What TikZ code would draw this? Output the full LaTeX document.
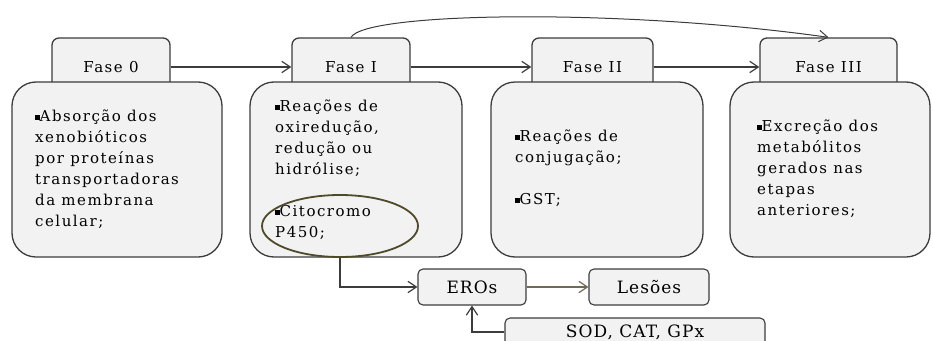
\documentclass[tikz,border=0pt]{standalone}
\usepackage{fontspec}
\setmainfont{DejaVu Serif}
\usepackage{xcolor}
\usetikzlibrary{arrows.meta,positioning,shapes.geometric}

\definecolor{boxfill}{HTML}{F2F2F2}
\definecolor{boxline}{HTML}{3C3C3C}
\definecolor{olivering}{HTML}{4F4B2A}
\definecolor{olivearrow}{HTML}{6F6B55}
\newcommand{\sq}{\raisebox{0.25ex}{\rule{4.5pt}{4.5pt}}}

\begin{document}
\begin{tikzpicture}[x=1pt,y=-1pt,
tab/.style={draw=boxline,fill=boxfill,line width=1.3pt,rounded corners=7pt,minimum height=58pt,
  font=\fontsize{15}{17}\selectfont\addfontfeatures{LetterSpace=10}},
body/.style={draw=boxline,fill=boxfill,line width=1.3pt,rounded corners=24pt,minimum height=175pt},
txt/.style={anchor=north west,align=left,inner sep=0pt,
  font=\fontsize{15}{21}\selectfont\addfontfeatures{LetterSpace=10}},
small/.style={draw=boxline,fill=boxfill,line width=1.1pt,rounded corners=5pt,
  font=\fontsize{17}{19}\selectfont\addfontfeatures{LetterSpace=6}},
arrow/.style={-{Straight Barb[length=3mm,width=4mm]},line width=1.2pt,draw=boxline}
]
\clip (0,0) rectangle (933,340);
% fases
\node[tab,minimum width=118pt] (t0) at (111,67) {Fase 0};
\node[tab,minimum width=118pt] (t1) at (351,67) {Fase I};
\node[tab,minimum width=121pt] (t2) at (592.5,67) {Fase II};
\node[tab,minimum width=137pt] (t3) at (828.5,67) {Fase III};
\node[body,minimum width=210pt] (b0) at (117,169.5) {};
\node[body,minimum width=212pt] (b1) at (356,169.5) {};
\node[body,minimum width=212pt] (b2) at (597,169.5) {};
\node[body,minimum width=200pt] (b3) at (830,169.5) {};
% textos
\node[txt] (x0) at (35,110) {\sq Absorção dos\\xenobióticos\\por proteínas\\transportadoras\\da membrana\\celular;};
\node[txt] (x1) at (275,100) {\sq Reações de\\oxiredução,\\redução ou\\hidrólise;\\[21pt]\sq Citocromo\\P450;};
\node[txt] (x2) at (515,130) {\sq Reações de\\conjugação;\\[21pt]\sq GST;};
\node[txt] (x3) at (757,120) {\sq Excreção dos\\metabólitos\\gerados nas\\etapas\\anteriores;};
\node[draw=olivering,line width=1.8pt,ellipse,minimum width=156pt,minimum height=62pt] (cyp) at (340,226) {};
% EROs
\node[small,minimum width=108pt,minimum height=36pt] (eros) at (472,287) {EROs};
\node[small,minimum width=120pt,minimum height=36pt] (les) at (649,287) {Lesões};
\node[small,minimum width=260pt,minimum height=28pt] (sod) at (635,332) {SOD, CAT, GPx};
% setas
\draw[arrow] (t0) -- (t1);
\draw[arrow] (t1) -- (t2);
\draw[arrow] (t2) -- (t3);
\draw[arrow,line width=1pt] (t1.north) .. controls (365,12) and (620,8) .. (t3.north);
\draw[arrow] (cyp.south) |- (eros.west);
\draw[arrow,draw=olivearrow] (eros) -- (les);
\draw[arrow] (sod.west) -| (eros.south);
\end{tikzpicture}
\end{document}
